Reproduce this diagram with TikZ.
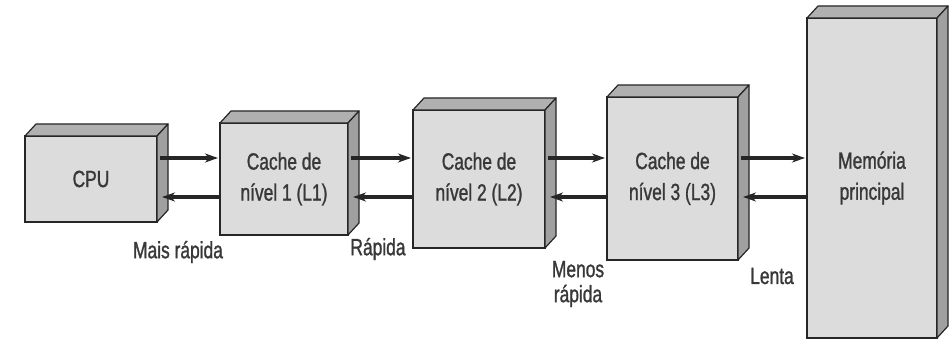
\documentclass[tikz,border=0pt]{standalone}
\usepackage{fontspec}
\setmainfont{Liberation Sans}[FakeStretch=0.74, FakeBold=1.2]
\usetikzlibrary{arrows.meta}
\definecolor{facefront}{HTML}{DCDCDC}
\definecolor{facetop}{HTML}{B0B0B0}
\definecolor{faceside}{HTML}{A0A0A0}
\definecolor{ink}{HTML}{262626}
\definecolor{txt}{HTML}{383838}
\tikzset{
  front/.style={draw=ink, line width=1.4pt, fill=facefront, rectangle,
    inner sep=0pt, outer sep=0pt, anchor=north west, align=center,
    text=txt, font=\fontsize{23.5}{31}\selectfont},
  topface/.style={draw=ink, line width=1.2pt, fill=facetop, line join=round},
  sideface/.style={draw=ink, line width=1.2pt, fill=faceside, line join=round},
  flow/.style={draw=ink, line width=3.2pt, -{Stealth[length=13pt,width=9pt,inset=4pt]}},
  tag/.style={text=txt, font=\fontsize{23.5}{25}\selectfont, align=center, inner sep=0pt}
}
% \slab{name}{left}{top}{right}{bottom}{text}  -- coordinates in px, y measured downward
\newcommand\slab[6]{%
  \node[front, minimum width={(#4-#2)*1pt}, minimum height={(#5-#3)*1pt}]
    (#1) at (#2,340-#3) {#6};
  \draw[topface] (#1.north west) -- ++(11,12) -- ([shift={(11,12)}]#1.north east)
    -- (#1.north east) -- cycle;
  \draw[sideface] (#1.north east) -- ++(11,12) -- ([shift={(11,12)}]#1.south east)
    -- (#1.south east) -- cycle;
}
\begin{document}
\begin{tikzpicture}[x=1pt,y=1pt]
  \useasboundingbox (0,0) rectangle (951,340);
  \slab{cpu}{25}{136}{157}{222}{CPU}
  \slab{lone}{220}{123}{348}{235}{Cache de\\nível 1 (L1)}
  \slab{ltwo}{413}{110}{545}{248}{Cache de\\nível 2 (L2)}
  \slab{lthree}{607}{97}{738}{260}{Cache de\\nível 3 (L3)}
  \slab{mem}{807}{18}{937}{338}{Memória\\principal}

  % request path (upper) and reply path (lower)
  \foreach \a/\b in {cpu/lone, lone/ltwo, ltwo/lthree, lthree/mem}{
    \draw[flow] ([xshift=3pt]\a.east |- 0,182) -- ([xshift=-2pt]\b.west |- 0,182);
    \draw[flow] (\b.west |- 0,143) -- ([xshift=5pt]\a.east |- 0,143);
  }

  \node[tag] (t1) at (178,340-252) {Mais rápida};
  \node[tag] (t2) at (378,340-249) {Rápida};
  \node[tag] (t3) at (578,340-284) {Menos\\rápida};
  \node[tag] (t4) at (772,340-276) {Lenta};
\end{tikzpicture}
\end{document}
